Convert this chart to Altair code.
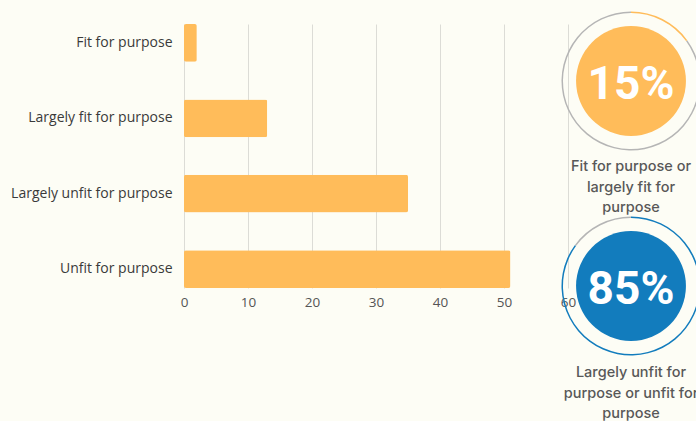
import altair as alt
import pandas as pd

# ---- data ----
categories = ["Fit for purpose", "Largely fit for purpose",
              "Largely unfit for purpose", "Unfit for purpose"]
counts = [2, 13, 35, 51]
x_ticks = [0, 10, 20, 30, 40, 50, 60]
shares = [15, 85]
share_labels = ["15%", "85%"]
captions = ["Fit for purpose or\nlargely fit for\npurpose",
            "Largely unfit for\npurpose or unfit for\npurpose"]

# ---- style ----
BG = "#fdfdf5"
ORANGE = "#ffbc5a"
BLUE = "#127cbd"
RING_GRAY = "#b5b5b5"
PLOT_W, PLOT_H = 384, 264
PAD_L, PAD_T = 184, 24

bars_df = pd.DataFrame({"category": categories, "count": counts})

bars = alt.Chart(bars_df).mark_bar(color=ORANGE, cornerRadius=2).encode(
    y=alt.Y("category:N", sort=categories, title=None,
            scale=alt.Scale(paddingInner=0.5, paddingOuter=0),
            axis=alt.Axis(labelFont="Open Sans", labelFontSize=14,
                          labelColor="#3a3a3a", labelPadding=12,
                          ticks=False, domain=False, grid=False)),
    x=alt.X("count:Q", title=None,
            scale=alt.Scale(domain=[0, 60], nice=False),
            axis=alt.Axis(values=x_ticks, labelFont="Open Sans", labelFontSize=13.5,
                          labelColor="#555555", labelPadding=7, labelFlush=False,
                          ticks=False, domain=False, grid=True,
                          gridColor="#dcdcd6", gridWidth=1)),
)

theta_scale = alt.Scale(domain=[0, 100], range=[0, 6.283185307])

layers = [bars]
circle_specs = [
    (0, ORANGE, 447, 57, 136),
    (1, BLUE, 447, 262, 342),
]
for i, col, cx, cy, cap_y in circle_specs:
    df = pd.DataFrame({"share": [shares[i]], "label": [share_labels[i]],
                       "caption": [captions[i]]})
    base = alt.Chart(df)
    ring_on = base.transform_calculate(start="0", end="datum.share").mark_arc(
        radius=69.5, radius2=68, color=col
    ).encode(theta=alt.Theta("start:Q", scale=theta_scale), theta2="end:Q",
             x=alt.value(cx), y=alt.value(cy))
    ring_off = base.transform_calculate(start="datum.share", end="100").mark_arc(
        radius=69.5, radius2=68, color=RING_GRAY
    ).encode(theta=alt.Theta("start:Q", scale=theta_scale), theta2="end:Q",
             x=alt.value(cx), y=alt.value(cy))
    disk = base.mark_circle(size=3.14159 * 62 * 62, color=col, opacity=1).encode(
        x=alt.value(cx), y=alt.value(cy))
    pct_text = base.mark_text(font="Roboto", fontWeight="bold", fontSize=46,
                              color="white", baseline="middle", align="center",
                              dy=4).encode(
        text="label:N", x=alt.value(cx), y=alt.value(cy))
    cap_text = base.mark_text(font="Inter", fontWeight=500, fontSize=14.5,
                              color="#585858", baseline="top", align="center",
                              lineBreak="\n", lineHeight=20.5).encode(
        text="caption:N", x=alt.value(cx), y=alt.value(cap_y))
    layers += [ring_off, ring_on, disk, pct_text, cap_text]

chart = alt.layer(*layers).properties(
    width=PLOT_W, height=PLOT_H,
    autosize=alt.AutoSizeParams(type="none"),
    padding={"left": PAD_L, "top": PAD_T,
             "right": 696 - PAD_L - PLOT_W, "bottom": 421 - PAD_T - PLOT_H},
    background=BG,
).configure_view(stroke=None)

chart.save("out.html", embed_options={"renderer": "svg", "actions": False})
